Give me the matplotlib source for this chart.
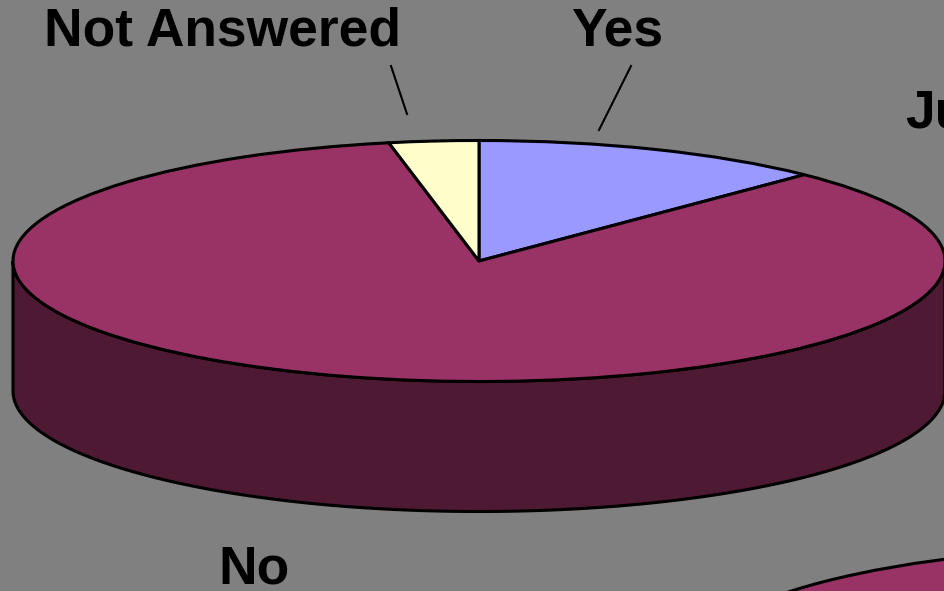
import numpy as np
import matplotlib
matplotlib.use('Agg')
import matplotlib.pyplot as plt
from matplotlib.transforms import Affine2D

labels = ['Yes', 'No', 'Not Answered']
values = [12.3, 84.6, 3.1]
colors = ['#9999FF', '#993366', '#FFFFCC']

other_values = [100]
other_colors = ['#993366']

plt.rcParams['font.family'] = ['Liberation Sans', 'DejaVu Sans']

bg = '#808080'
wall = '#4D1933'

fig = plt.figure(figsize=(9.45, 5.91), dpi=100, facecolor=bg)
ax = fig.add_axes([0, 0, 1, 1], facecolor=bg)


def draw_pie(vals, cols, cx, cy, rx=466, ry=120.5, depth=130):
    # side wall, lower half of the ellipse pushed down
    t = np.linspace(0, np.pi, 200)
    x = cx + rx * np.cos(t)
    y = cy + ry * np.sin(t)
    xs = np.concatenate([x, x[::-1]])
    ys = np.concatenate([y, y[::-1] + depth])
    ax.fill(xs, ys, facecolor=wall, edgecolor='black', linewidth=2.2, zorder=1)
    # flat top
    wedges, _ = ax.pie(vals, colors=cols, startangle=90, counterclock=False,
                       wedgeprops={'edgecolor': 'black', 'linewidth': 2.2})
    for w in wedges:
        w.set_transform(Affine2D().scale(rx, -ry).translate(cx, cy) + ax.transData)
        w.set_zorder(2)


draw_pie(values, colors, 479, 261)
draw_pie(other_values, other_colors, 1153, 667)

ax.set_aspect('auto')
ax.set_xlim(0, 945)
ax.set_ylim(591, 0)
ax.axis('off')

# labels and leader lines
ax.text(222, 32, labels[2], fontsize=38.4, fontweight='bold', ha='center', va='center')
ax.text(617, 32, labels[0], fontsize=38.4, fontweight='bold', ha='center', va='center')
ax.text(254, 570, labels[1], fontsize=38.4, fontweight='bold', ha='center', va='center')
ax.text(905, 113, 'Ju', fontsize=38.4, fontweight='bold', ha='left', va='center', clip_on=True)
ax.plot([391, 407], [66, 114], color='black', linewidth=1.5)
ax.plot([631, 599], [66, 130], color='black', linewidth=1.5)

fig.savefig('out.png', dpi=100, facecolor=bg)
